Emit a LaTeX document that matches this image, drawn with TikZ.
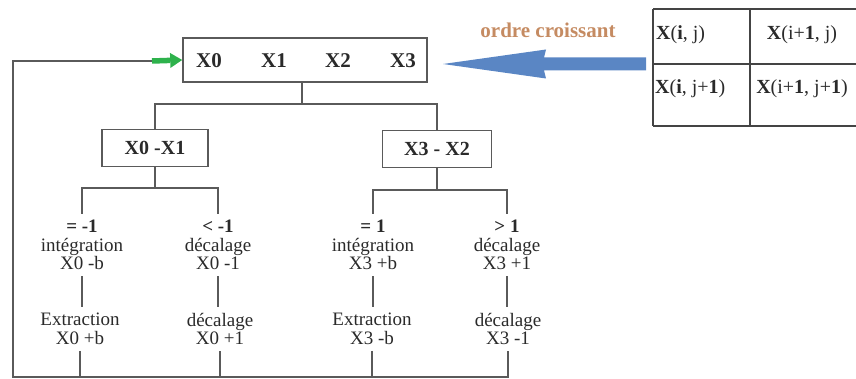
\documentclass[tikz,border=0pt]{standalone}
\usepackage{fontspec}
\setmainfont{Liberation Serif}
\usetikzlibrary{arrows.meta}
\definecolor{ln}{HTML}{5A5A5A}
\definecolor{tabln}{HTML}{444444}
\definecolor{arrblue}{HTML}{5A86C4}
\definecolor{arrgreen}{HTML}{2EB24C}
\definecolor{ordcol}{HTML}{C58B62}
\definecolor{txt}{HTML}{2A2A2A}
\begin{document}
\begin{tikzpicture}[x=1pt,y=-1pt,
  lw/.style={draw=ln, line width=1.6pt},
  tabline/.style={draw=tabln, line width=1.5pt},
  box/.style={draw=ln, line width=1.6pt, fill=white, inner sep=0pt, font=\fontsize{20}{20}\selectfont\bfseries, text=txt},
  bx/.style={font=\fontsize{21}{21}\selectfont\bfseries, inner sep=0pt, text=txt},
  grp/.style={align=center, font=\fontsize{19}{18.5}\selectfont, inner xsep=0pt, inner ysep=6pt, text=txt},
  tb/.style={font=\fontsize{20}{20}\selectfont, inner sep=0pt, text=txt},
]
\useasboundingbox (0,0) rectangle (856,379);

% top box
\node[box, minimum width=244pt, minimum height=44pt] (top) at (305,60) {};
\node[bx] (x0) at (209,61) {X0};
\node[bx] (x1) at (274,61) {X1};
\node[bx] (x2) at (338,61) {X2};
\node[bx] (x3) at (403,61) {X3};

% second level boxes
\node[box, minimum width=106pt, minimum height=37pt] (b1) at (155,148) {X0 -X1};
\node[box, minimum width=109pt, minimum height=37pt] (b2) at (437,149) {X3 - X2};

\coordinate (j0) at (302,104);
\draw[lw] (top.south -| j0) -- (j0);
\draw[lw] (b1.north) |- (j0) -| (b2.north);

% groups
\node[grp] (g1) at (82,245) {\textbf{= -1}\\intégration\\X0 -b};
\node[grp] (g2) at (80,329) {Extraction\\X0 +b};
\node[grp] (g3) at (218,245) {\textbf{< -1}\\décalage\\X0 -1};
\node[grp] (g4) at (220,329) {décalage\\X0 +1};
\node[grp] (g5) at (373,245) {\textbf{= 1}\\intégration\\X3 +b};
\node[grp] (g6) at (372,329) {Extraction\\X3 -b};
\node[grp] (g7) at (507,245) {\textbf{> 1}\\décalage\\X3 +1};
\node[grp] (g8) at (508,329) {décalage\\X3 -1};

\coordinate (j1) at (155,188);
\coordinate (j2) at (437,190);
\draw[lw] (b1.south) -- (j1);
\draw[lw] (g1.north) |- (j1) -| (g3.north);
\draw[lw] (b2.south) -- (j2);
\draw[lw] (g5.north) |- (j2) -| (g7.north);

\draw[lw] (g1.south) -- (g1.south |- g2.north);
\draw[lw] (g3.south) -- (g3.south |- g4.north);
\draw[lw] (g5.south) -- (g5.south |- g6.north);
\draw[lw] (g7.south) -- (g7.south |- g8.north);

% feedback loop
\coordinate (bl) at (13,377);
\coordinate (ga) at (152,61);
\draw[lw] (g8.south) |- (bl) |- (ga);
\draw[lw] (g2.south) -- (g2.south |- bl);
\draw[lw] (g4.south) -- (g4.south |- bl);
\draw[lw] (g6.south) -- (g6.south |- bl);
\draw[draw=arrgreen, line width=5.5pt, -{Triangle[length=12pt,width=15pt,line width=0pt]}] (ga) -- (top.west);

% table
\draw[tabline] (653,9) -- (856,9);
\draw[tabline] (653,64) -- (856,64);
\draw[tabline] (653,126) -- (856,126);
\draw[tabline] (653,9) -- (653,126);
\draw[tabline] (750,9) -- (750,126);
\node[tb, anchor=west] (t11) at (656,35) {\textbf{X}(\textbf{i}, j)};
\node[tb] (t21) at (802,35) {\textbf{X}(i+\textbf{1}, j)};
\node[tb, anchor=west] (t12) at (655,89) {\textbf{X}(\textbf{i}, j+\textbf{1})};
\node[tb] (t22) at (802,89) {\textbf{X}(i+\textbf{1}, j+\textbf{1})};

% blue arrow and label
\fill[arrblue] (443,64) -- (546,49.5) -- (544,57.5) -- (646,57.5) -- (646,70.5) -- (544,70.5) -- (546,78.5) -- cycle;
\node[font=\fontsize{21}{21}\selectfont\bfseries, text=ordcol, inner sep=0pt] (ord) at (548,30) {ordre croissant};
\end{tikzpicture}
\end{document}
